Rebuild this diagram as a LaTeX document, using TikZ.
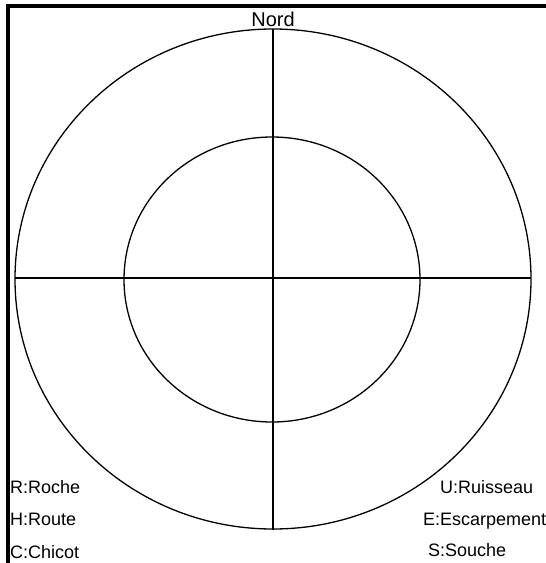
\documentclass[tikz,border=0pt]{standalone}
\usepackage{fontspec}
\setmainfont{Liberation Sans}
\begin{document}
\begin{tikzpicture}[x=1pt,y=-1pt,
  ring/.style={line width=1.3pt},
  frame/.style={line width=4pt},
  legend/.style={inner sep=0pt,anchor=base west,font=\fontsize{18}{20}\selectfont},
  title/.style={inner sep=0pt,anchor=base,font=\fontsize{20}{22}\selectfont}]
\useasboundingbox (0,0) rectangle (546,563);
% frame
\draw[frame] (8,563) -- (8,6) -- (546,6);
% circles
\draw[ring] (273,279) ellipse [x radius=258, y radius=250];
\draw[ring] (272,279.5) ellipse [x radius=148, y radius=142.5];
% cross
\coordinate (n) at (273,29);
\coordinate (s) at (273,530);
\coordinate (w) at (15,278);
\coordinate (e) at (531,278);
\draw[ring] (n) -- (s);
\draw[ring] (w) -- (e);
% labels
\node[title] (nord) at (273,26.5) {Nord};
\node[legend] (r) at (10,493) {R:Roche};
\node[legend] (h) at (10,525.5) {H:Route};
\node[legend] (c) at (10,558) {C:Chicot};
\node[legend] (u) at (440,493) {U:Ruisseau};
\node[legend] (ee) at (423,525) {E:Escarpement};
\node[legend] (ss) at (428,556.5) {S:Souche};
\end{tikzpicture}
\end{document}
